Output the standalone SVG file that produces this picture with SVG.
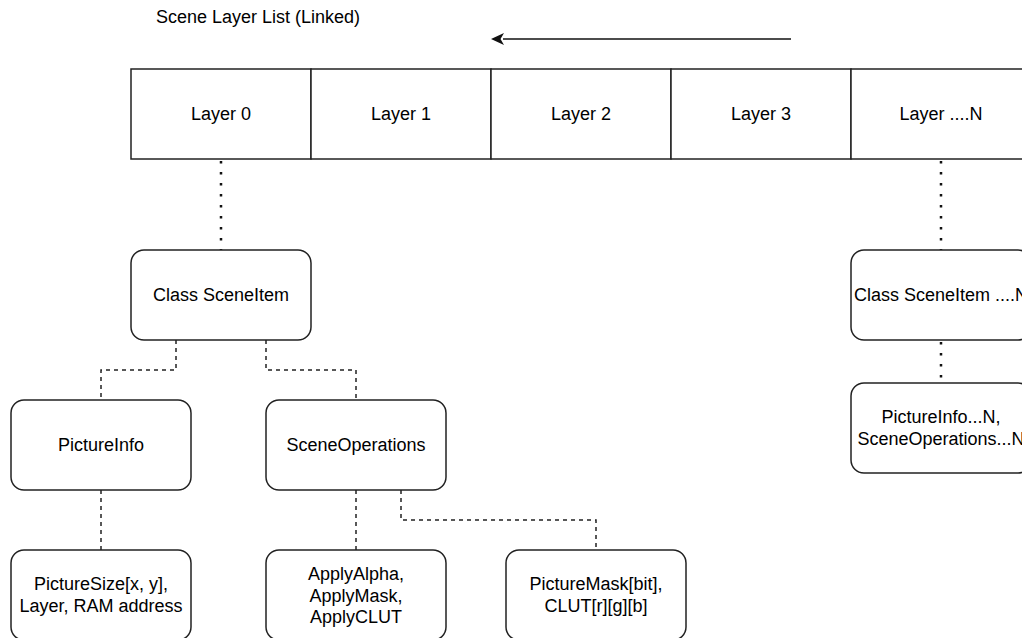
<svg xmlns="http://www.w3.org/2000/svg" width="1022" height="638" viewBox="0 0 1022 638">
<style>
text{font-family:"Liberation Sans",Arial,sans-serif;font-size:18px;fill:#000;text-anchor:middle;dominant-baseline:central}
.cell{fill:#fff;stroke:#222;stroke-width:1.5}
.box{fill:#fff;stroke:#222;stroke-width:1.5}
.dot{fill:none;stroke:#111;stroke-width:2.5;stroke-dasharray:2.5 8.5}
.dash{fill:none;stroke:#222;stroke-width:1.5;stroke-dasharray:4 4}
.arr{fill:none;stroke:#111;stroke-width:1.5}
</style>
<defs>
<marker id="ah" viewBox="0 0 13 12" refX="1" refY="6" markerWidth="13" markerHeight="12" markerUnits="userSpaceOnUse" orient="auto">
<path d="M13,6 L0,0 L3.5,6 L0,12 Z" fill="#111"/>
</marker>
</defs>
<rect width="1022" height="638" fill="#fff"/>
<text x="258" y="17">Scene Layer List (Linked)</text>
<g id="connectors">
<line class="arr" x1="791" y1="39" x2="503" y2="39" marker-end="url(#ah)"/>
<path class="dot" d="M221,161 V250"/>
<path class="dot" d="M941,161 V250"/>
<path class="dot" d="M941,342 V383"/>
<path class="dash" d="M176,340 V370 H101 V400"/>
<path class="dash" d="M266,340 V370 H356 V400"/>
<path class="dash" d="M101,490 V550"/>
<path class="dash" d="M356,490 V550"/>
<path class="dash" d="M401,490 V520 H596 V550"/>
</g>
<g id="layer0"><rect class="cell" x="131" y="69" width="180" height="90"/><text x="221" y="114">Layer 0</text></g>
<g id="layer1"><rect class="cell" x="311" y="69" width="180" height="90"/><text x="401" y="114">Layer 1</text></g>
<g id="layer2"><rect class="cell" x="491" y="69" width="180" height="90"/><text x="581" y="114">Layer 2</text></g>
<g id="layer3"><rect class="cell" x="671" y="69" width="180" height="90"/><text x="761" y="114">Layer 3</text></g>
<g id="layerN"><rect class="cell" x="851" y="69" width="180" height="90"/><text x="941" y="114">Layer ....N</text></g>
<g id="sceneitem"><rect class="box" x="131" y="250" width="180" height="90" rx="13"/><text x="221" y="295">Class SceneItem</text></g>
<g id="pictureinfo"><rect class="box" x="11" y="400" width="180" height="90" rx="13"/><text x="101" y="445">PictureInfo</text></g>
<g id="sceneops"><rect class="box" x="266" y="400" width="180" height="90" rx="13"/><text x="356" y="445">SceneOperations</text></g>
<g id="picturesize"><rect class="box" x="11" y="550" width="180" height="90" rx="13"/><text x="101" y="584">PictureSize[x, y],</text><text x="101" y="606">Layer, RAM address</text></g>
<g id="applyops"><rect class="box" x="266" y="550" width="180" height="90" rx="13"/><text x="356" y="574">ApplyAlpha,</text><text x="356" y="596">ApplyMask,</text><text x="356" y="617">ApplyCLUT</text></g>
<g id="picturemask"><rect class="box" x="506" y="550" width="180" height="90" rx="13"/><text x="596" y="584">PictureMask[bit],</text><text x="596" y="606">CLUT[r][g][b]</text></g>
<g id="sceneitemN"><rect class="box" x="851" y="250" width="180" height="90" rx="13"/><text x="941" y="295">Class SceneItem ....N</text></g>
<g id="pictureinfoN"><rect class="box" x="851" y="383" width="180" height="90" rx="13"/><text x="941" y="417">PictureInfo...N,</text><text x="941" y="439">SceneOperations...N</text></g>
</svg>
